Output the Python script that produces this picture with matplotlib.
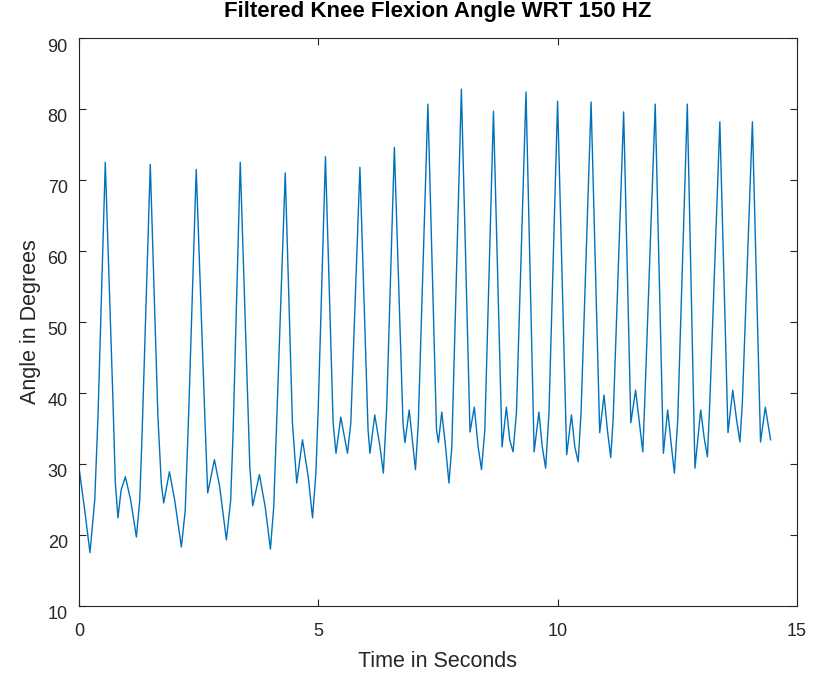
import matplotlib.pyplot as plt
import matplotlib.transforms as mtransforms

# Points of the filtered knee angle
time_s = [0.00, 0.12, 0.23, 0.33, 0.40, 0.55, 0.71, 0.76, 0.815, 0.88,
          0.97, 1.08, 1.20, 1.27, 1.32, 1.49, 1.65, 1.72, 1.77, 1.89,
          2.00, 2.14, 2.22, 2.29, 2.45, 2.63, 2.69, 2.83, 2.94, 3.08,
          3.17, 3.22, 3.37, 3.57, 3.63, 3.77, 3.89, 4.00, 4.07, 4.13,
          4.31, 4.46, 4.55, 4.67, 4.79, 4.88, 4.95, 5.00, 5.15, 5.31,
          5.37, 5.47, 5.61, 5.68, 5.87, 6.04, 6.08, 6.18, 6.29, 6.36,
          6.43, 6.59, 6.77, 6.81, 6.90, 7.03, 7.09, 7.29, 7.47, 7.51,
          7.58, 7.66, 7.73, 7.79, 7.99, 8.17, 8.26, 8.34, 8.41, 8.48,
          8.66, 8.84, 8.93, 9.00, 9.07, 9.14, 9.34, 9.51, 9.61, 9.68,
          9.75, 9.82, 10.00, 10.19, 10.29, 10.36, 10.43, 10.49, 10.70, 10.88,
          10.97, 11.04, 11.11, 11.16, 11.38, 11.53, 11.63, 11.71, 11.78, 11.82,
          12.04, 12.21, 12.30, 12.37, 12.44, 12.51, 12.71, 12.87, 12.99, 13.06,
          13.13, 13.18, 13.39, 13.56, 13.66, 13.74, 13.81, 13.86, 14.07, 14.24,
          14.34, 14.45]
angle_deg = [29.5, 23.5, 17.5, 24.9, 37.2, 72.5, 39.0, 27.3, 22.4, 26.3,
             28.2, 24.9, 19.7, 24.9, 34.4, 72.2, 36.6, 27.3, 24.5, 28.9,
             24.9, 18.3, 23.4, 36.6, 71.5, 36.6, 25.9, 30.6, 26.8, 19.3,
             24.9, 34.4, 72.5, 29.6, 24.1, 28.5, 24.0, 18.0, 24.0, 35.8,
             71.0, 35.8, 27.3, 33.4, 28.2, 22.4, 28.7, 38.0, 73.3, 35.8,
             31.5, 36.6, 31.5, 35.8, 71.8, 34.8, 31.5, 36.9, 32.4, 28.7,
             38.0, 74.6, 35.8, 33.0, 37.6, 29.2, 35.8, 80.7, 34.8, 33.0,
             37.3, 32.4, 27.3, 32.4, 82.8, 34.5, 38.0, 32.4, 29.2, 34.8,
             79.7, 32.4, 38.0, 33.4, 31.7, 37.2, 82.4, 31.7, 37.3, 32.4,
             29.4, 37.2, 81.1, 31.3, 36.9, 32.4, 30.3, 37.2, 81.0, 34.4,
             39.7, 34.8, 30.9, 36.2, 79.6, 35.8, 40.4, 35.8, 31.7, 38.6,
             80.7, 31.5, 37.6, 33.0, 28.7, 36.2, 80.7, 29.4, 37.6, 33.8,
             31.0, 38.6, 78.2, 34.4, 40.4, 36.2, 33.1, 38.6, 78.2, 33.1,
             38.0, 33.4]

x_ticks = [0, 5, 10, 15]
y_ticks = [10, 20, 30, 40, 50, 60, 70, 80, 90]

axis_grey = '#262626'
plt.rcParams['font.family'] = ['Liberation Sans', 'DejaVu Sans']

fig = plt.figure(figsize=(8.14, 6.8), dpi=100)
ax = fig.add_axes([0.097, 0.109, 0.882, 0.835])

ax.plot(time_s, angle_deg, color='#0072BD', linewidth=1.0)

ax.set_xlim(0, 15)
ax.set_ylim(10, 90)
ax.set_xticks(x_ticks)
ax.set_yticks(y_ticks)
ax.tick_params(direction='in', top=True, right=True, length=5, width=0.8,
               colors=axis_grey, labelsize=13)
ax.tick_params(axis='x', pad=12)
ax.tick_params(axis='y', pad=8)
for spine in ax.spines.values():
    spine.set_color(axis_grey)
    spine.set_linewidth(0.8)

# y tick labels sit a little below their ticks in the reference
shift = mtransforms.ScaledTranslation(0, -5 / 72, fig.dpi_scale_trans)
for lbl in ax.get_yticklabels():
    lbl.set_transform(lbl.get_transform() + shift)

ax.set_title('Filtered Knee Flexion Angle WRT 150 HZ', fontsize=16,
             fontweight='bold', pad=15)
ax.set_xlabel('Time in Seconds', fontsize=15.5, color=axis_grey, labelpad=8)
ax.set_ylabel('Angle in Degrees', fontsize=15.5, color=axis_grey, labelpad=5)

fig.savefig('out.png', dpi=100)
